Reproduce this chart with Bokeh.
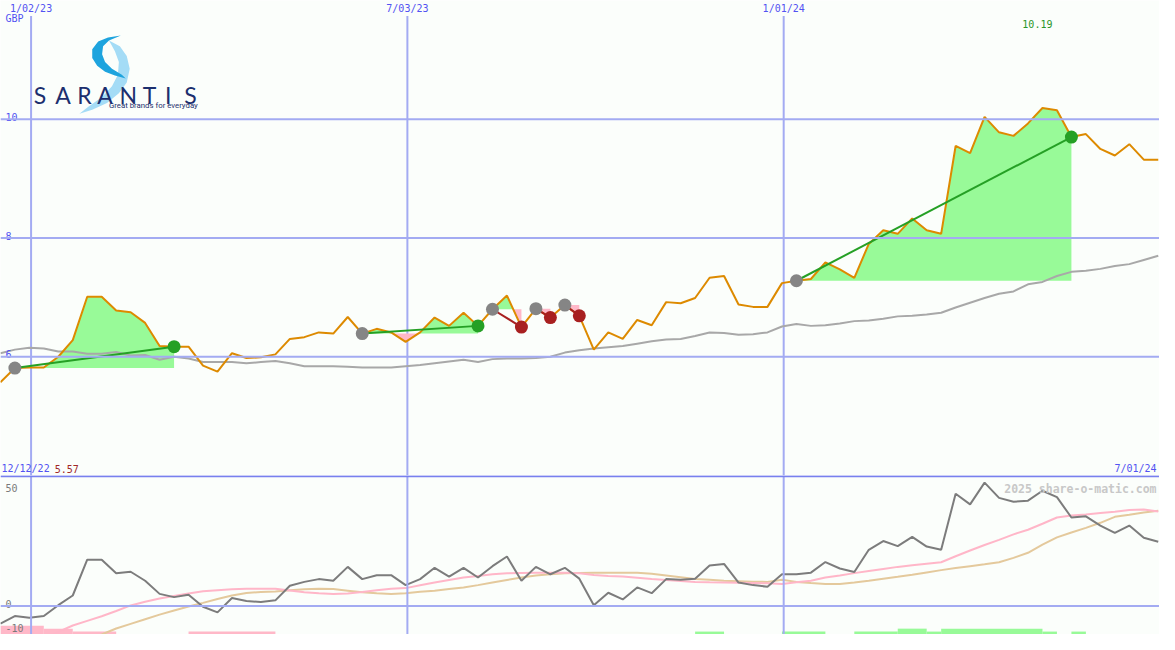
import math
from bokeh.plotting import figure
from bokeh.layouts import column
from bokeh.models import Range1d, Span
from bokeh.core.properties import value
from bokeh.embed import file_html
from bokeh.resources import INLINE

NAN = float("nan")

# ---------------- data (weekly closes, index 0 = first point) ----------------
price = [5.57, 5.81, 5.82, 5.82, 6.00, 6.28, 7.01, 7.01, 6.78, 6.75,
         6.57, 6.18, 6.17, 6.17, 5.85, 5.75, 6.06, 5.98, 5.99, 6.04,
         6.30, 6.33, 6.41, 6.39, 6.67, 6.39, 6.47, 6.41, 6.25, 6.41,
         6.66, 6.52, 6.74, 6.52, 6.80, 7.03, 6.50, 6.81, 6.66, 6.87,
         6.69, 6.12, 6.41, 6.30, 6.62, 6.53, 6.92, 6.90, 6.99, 7.33,
         7.36, 6.88, 6.84, 6.84, 7.24, 7.28, 7.31, 7.59, 7.47, 7.33,
         7.90, 8.13, 8.07, 8.33, 8.13, 8.07, 9.55, 9.43, 10.04, 9.78,
         9.72, 9.93, 10.19, 10.15, 9.70, 9.75, 9.50, 9.39, 9.58, 9.32,
         9.32]

avg_price = [6.06, 6.12, 6.15, 6.14, 6.09, 6.09, 6.05, 6.05, 6.08, 6.02,
             6.03, 5.95, 6.00, 5.97, 5.91, 5.91, 5.91, 5.89, 5.91, 5.93,
             5.89, 5.84, 5.84, 5.84, 5.83, 5.82, 5.82, 5.82, 5.84, 5.86,
             5.89, 5.92, 5.95, 5.91, 5.96, 5.97, 5.97, 5.98, 6.00, 6.07,
             6.11, 6.14, 6.16, 6.18, 6.22, 6.26, 6.29, 6.30, 6.35, 6.41,
             6.40, 6.37, 6.38, 6.41, 6.51, 6.55, 6.52, 6.53, 6.56, 6.60,
             6.61, 6.64, 6.68, 6.69, 6.71, 6.74, 6.83, 6.91, 6.99, 7.06,
             7.10, 7.22, 7.26, 7.36, 7.43, 7.45, 7.48, 7.53, 7.56, 7.63,
             7.70]

momentum = [-7.7, -4.4, -5.1, -4.4, 0.3, 4.5, 20.0, 20.0, 14.1, 14.8,
            10.9, 5.2, 3.8, 4.8, -0.4, -2.8, 3.4, 2.1, 1.7, 2.4,
            8.7, 10.4, 11.6, 10.9, 16.9, 11.6, 13.3, 13.3, 9.0, 11.6,
            16.5, 12.7, 16.5, 12.3, 17.2, 21.4, 10.9, 16.9, 13.7, 16.5,
            11.8, 0.3, 5.7, 2.8, 8.0, 5.5, 11.6, 11.3, 11.8, 17.5,
            18.2, 10.1, 9.0, 8.3, 13.7, 13.7, 14.4, 19.0, 16.2, 14.7,
            24.3, 28.1, 25.9, 29.9, 25.7, 24.3, 48.6, 44.0, 53.4, 46.8,
            45.1, 45.6, 49.9, 47.1, 38.3, 38.8, 34.8, 31.6, 34.8, 29.5,
            27.8]

momentum_fast = [NAN, NAN, NAN, -14.0, -11.3, -8.5, -6.5, -4.5, -2.2, 0.2,
                 1.8, 3.2, 4.3, 5.4, 6.3, 6.8, 7.2, 7.4, 7.4, 7.4,
                 6.7, 5.9, 5.5, 5.2, 5.4, 6.0, 6.8, 7.4, 7.7, 8.9,
                 10.1, 11.2, 12.3, 13.0, 13.7, 14.1, 14.3, 14.4, 14.4, 14.4,
                 14.1, 13.4, 13.0, 12.7, 12.2, 11.6, 11.2, 10.8, 10.4, 10.2,
                 10.1, 10.0, 9.9, 9.8, 9.5, 10.2, 10.9, 12.3, 13.2, 14.2,
                 15.1, 16.0, 16.9, 17.6, 18.3, 18.9, 21.5, 24.0, 26.4, 28.6,
                 31.0, 33.0, 35.6, 38.3, 39.2, 39.6, 40.2, 40.8, 41.5, 41.8,
                 40.9]

momentum_slow = [NAN, NAN, NAN, NAN, NAN, NAN, -14.5, -12.4, -9.8, -7.8,
                 -5.8, -3.8, -2.0, -0.3, 1.3, 3.0, 4.5, 5.6, 6.0, 6.2,
                 6.8, 7.2, 7.4, 7.3, 6.6, 5.9, 5.5, 5.2, 5.5, 6.1,
                 6.6, 7.3, 8.0, 9.0, 10.1, 11.2, 12.3, 13.2, 13.7, 14.1,
                 14.3, 14.4, 14.4, 14.4, 14.4, 13.9, 13.2, 12.4, 11.6, 11.3,
                 10.9, 10.7, 10.5, 10.4, 11.3, 10.4, 9.9, 9.5, 9.5, 10.1,
                 10.9, 11.8, 12.6, 13.5, 14.5, 15.5, 16.4, 17.2, 18.0, 18.9,
                 20.8, 23.0, 26.5, 29.7, 31.8, 33.8, 36.0, 38.6, 39.5, 40.5,
                 41.2]

# trades: entry / exit indices
buy_idx = [1, 25, 34, 37, 39, 55]
sell_idx = [12, 33, 36, 38, 40, 74]

# signal strip at the bottom of the lower panel (negative = sell, positive = buy)
signal_start = [0, 3, 5, 13, 48, 54, 59, 62, 64, 65, 72, 74]
signal_end = [3, 5, 8, 19, 50, 57, 62, 64, 65, 72, 73, 75]
signal_level = [-3, -2, -1, -1, 1, 1, 1, 2, 1, 2, 1, 1]

date_ticks = [2.12, 28.12, 54.12]
date_labels = ["1/02/23", "7/03/23", "1/01/24"]
price_ticks = [10, 8, 6]
price_tick_labels = ["10", "8", "6"]
osc_ticks = [50, 0, -10]
osc_tick_labels = ["50", "0", "-10"]
start_date = "12/12/22"
end_date = "7/01/24"
currency = "GBP"
credit = "2025 share-o-matic.com"

# ---------------- layout constants ----------------
W = 1159
H_TOP = 475
H_BOT = 159
X0, X1 = 0.007, 80.086
Y_TOP = (4.0, 12.0)
Y_BOT = (-12.4, 56.5)
PX_X = (X1 - X0) / 1175.0          # data units per reference pixel (x)
PX_YT = (Y_TOP[1] - Y_TOP[0]) / 487.0
PX_YB = (Y_BOT[1] - Y_BOT[0]) / 163.0

BG = "#fbfefb"
GRID = "#a3abf2"
SEP = "#7880ee"
TICK_BLUE = "#5252f2"
MONO = value("DejaVu Sans Mono")
ORANGE = "#dd8a00"
GREEN_FILL = "#98fa98"
PINK_FILL = "#ffb8c8"
TRADE_GREEN = "#25a025"
TRADE_RED = "#a82020"

xs = list(range(len(price)))


def make_fig(h, yr):
    f = figure(width=W, height=h, x_range=Range1d(X0, X1), y_range=Range1d(*yr),
               output_backend="svg", toolbar_location=None,
               x_axis_location=None, y_axis_location=None, min_border=0)
    f.grid.visible = False
    f.outline_line_color = None
    f.background_fill_color = BG
    f.border_fill_color = BG
    return f


def rx(px):
    return X0 + px * PX_X


def ry(py):
    return Y_TOP[1] - py * PX_YT


def by(py):
    return (620.7 - py) * PX_YB


# ---------------- top panel ----------------
p = make_fig(H_TOP, Y_TOP)

for t in price_ticks:
    p.add_layout(Span(location=t, dimension="width", line_color=GRID, line_width=2))
p.segment(x0=date_ticks, x1=date_ticks, y0=Y_TOP[0], y1=ry(16),
          line_color=GRID, line_width=2)

# trade fills (green above entry level, pink below)
for b, s in zip(buy_idx, sell_idx):
    lvl = price[b]
    fx, up, dn = [], [], []
    for i in range(b, s):
        p0, p1 = price[i], price[i + 1]
        fx.append(i); up.append(max(p0, lvl)); dn.append(min(p0, lvl))
        if (p0 - lvl) * (p1 - lvl) < 0:
            t = (lvl - p0) / (p1 - p0)
            fx.append(i + t); up.append(lvl); dn.append(lvl)
    fx.append(s); up.append(max(price[s], lvl)); dn.append(min(price[s], lvl))
    p.varea(x=fx, y1=lvl, y2=up, fill_color=GREEN_FILL)
    p.varea(x=fx, y1=dn, y2=lvl, fill_color=PINK_FILL)

p.line(xs, avg_price, line_color="#a8a8a8", line_width=2)
p.line(xs, price, line_color=ORANGE, line_width=2)

for b, s in zip(buy_idx, sell_idx):
    col = TRADE_GREEN if price[s] > price[b] else TRADE_RED
    p.line([b, s], [price[b], price[s]], line_color=col, line_width=2)
p.scatter(buy_idx, [price[b] for b in buy_idx], size=13, fill_color="#858585",
          line_color=None)
p.scatter(sell_idx, [price[s] for s in sell_idx], size=13,
          fill_color=[TRADE_GREEN if price[s] > price[b] else TRADE_RED
                      for b, s in zip(buy_idx, sell_idx)], line_color=None)

# axis texts
p.text(x=date_ticks, y=ry(3), text=date_labels, text_font=MONO,
       text_font_size=value("10px"), text_color=TICK_BLUE,
       text_align="center", text_baseline="top")
p.text(x=[rx(5)] * len(price_ticks), y=[t + 2.5 * PX_YT for t in price_ticks],
       text=price_tick_labels, text_font=MONO, text_font_size=value("10px"),
       text_color=TICK_BLUE, text_align="left", text_baseline="alphabetic")
p.text(x=[rx(5)], y=[ry(13)], text=[currency], text_font=MONO,
       text_font_size=value("10px"), text_color=TICK_BLUE, text_align="left",
       text_baseline="top")
imax = max(range(len(price)), key=lambda i: price[i])
p.text(x=[imax - 0.35], y=[ry(24)], text=[f"{price[imax]:.2f}"], text_font=MONO,
       text_font_size=value("10px"), text_color="#2a962a", text_align="center",
       text_baseline="alphabetic")
p.text(x=[rx(1)], y=[ry(480)], text=[start_date], text_font=MONO,
       text_font_size=value("10px"), text_color=TICK_BLUE, text_align="left",
       text_baseline="alphabetic")
p.text(x=[rx(55)], y=[ry(480)], text=[f"{price[0]:.2f}"], text_font=MONO,
       text_font_size=value("10px"), text_color="#a02828", text_align="left",
       text_baseline="alphabetic")
p.text(x=[rx(1172)], y=[ry(480)], text=[end_date], text_font=MONO,
       text_font_size=value("10px"), text_color=TICK_BLUE, text_align="right",
       text_baseline="alphabetic")

# logo (decoration)
tail = [(110, 41), (121, 47), (128, 57), (131, 70), (128, 84), (120, 95), (108, 105),
        (93, 112), (80, 116), (89, 109), (103, 99), (113, 88), (119, 76), (120, 63),
        (116, 52)]
crescent = [(122, 36), (109, 38), (99, 42), (93, 50), (93, 59), (98, 67), (106, 73),
            (116, 77), (127, 80), (123, 76), (113, 70), (106, 63), (103, 55), (104, 47),
            (110, 41)]
p.patch([rx(a) for a, _ in tail], [ry(b) for _, b in tail], fill_color="#a4dcf6",
        line_color=None)
p.patch([rx(a) for a, _ in crescent], [ry(b) for _, b in crescent],
        fill_color="#1ea4de", line_color=None)
letters = list("SARANTIS")
letter_px = [40, 63.5, 85, 106, 129.5, 151, 170, 192.5]
p.text(x=[rx(v) for v in letter_px], y=[ry(97)] * 8, text=letters,
       text_font=value("Lato"), text_font_size=value("23px"), text_color="#1c2f6e",
       text_align="center", text_baseline="alphabetic")
p.text(x=[rx(200)], y=[ry(108)], text=["Great brands for everyday"],
       text_font=value("Roboto"), text_font_size=value("7.8px"),
       text_color="#1c2f6e", text_align="right", text_baseline="alphabetic")

# ---------------- bottom panel ----------------
q = make_fig(H_BOT, Y_BOT)
q.add_layout(Span(location=0, dimension="width", line_color=GRID, line_width=2))
for t in date_ticks:
    q.add_layout(Span(location=t, dimension="height", line_color=GRID, line_width=2))

unit = 3 * PX_YB
q.quad(left=signal_start, right=signal_end, bottom=Y_BOT[0] - 1,
       top=[Y_BOT[0] + abs(v) * unit for v in signal_level],
       fill_color=[GREEN_FILL if v > 0 else PINK_FILL for v in signal_level],
       line_color=None)

q.line(xs, momentum_slow, line_color="#e4c99c", line_width=2)
q.line(xs, momentum_fast, line_color="#ffb6c8", line_width=2)
q.line(xs, momentum, line_color="#7c7c7c", line_width=2)

q.add_layout(Span(location=Y_BOT[1] - 0.35, dimension="width", line_color=SEP,
                  line_width=2))

base_px = [500, 619, 643]
q.text(x=[rx(5)] * 3, y=[by(v) for v in base_px],
       text=osc_tick_labels, text_font=MONO, text_font_size=value("10px"),
       text_color="#7a7a7a", text_align="left", text_baseline="alphabetic")
q.text(x=[rx(1172)], y=[by(500.5)], text=[credit],
       text_font=MONO, text_font_size=value("11.5px"), text_font_style="bold",
       text_color="#c8c8c8", text_align="right", text_baseline="alphabetic")

layout = column(p, q, spacing=0)
open("out.html", "w").write(file_html(layout, INLINE))
